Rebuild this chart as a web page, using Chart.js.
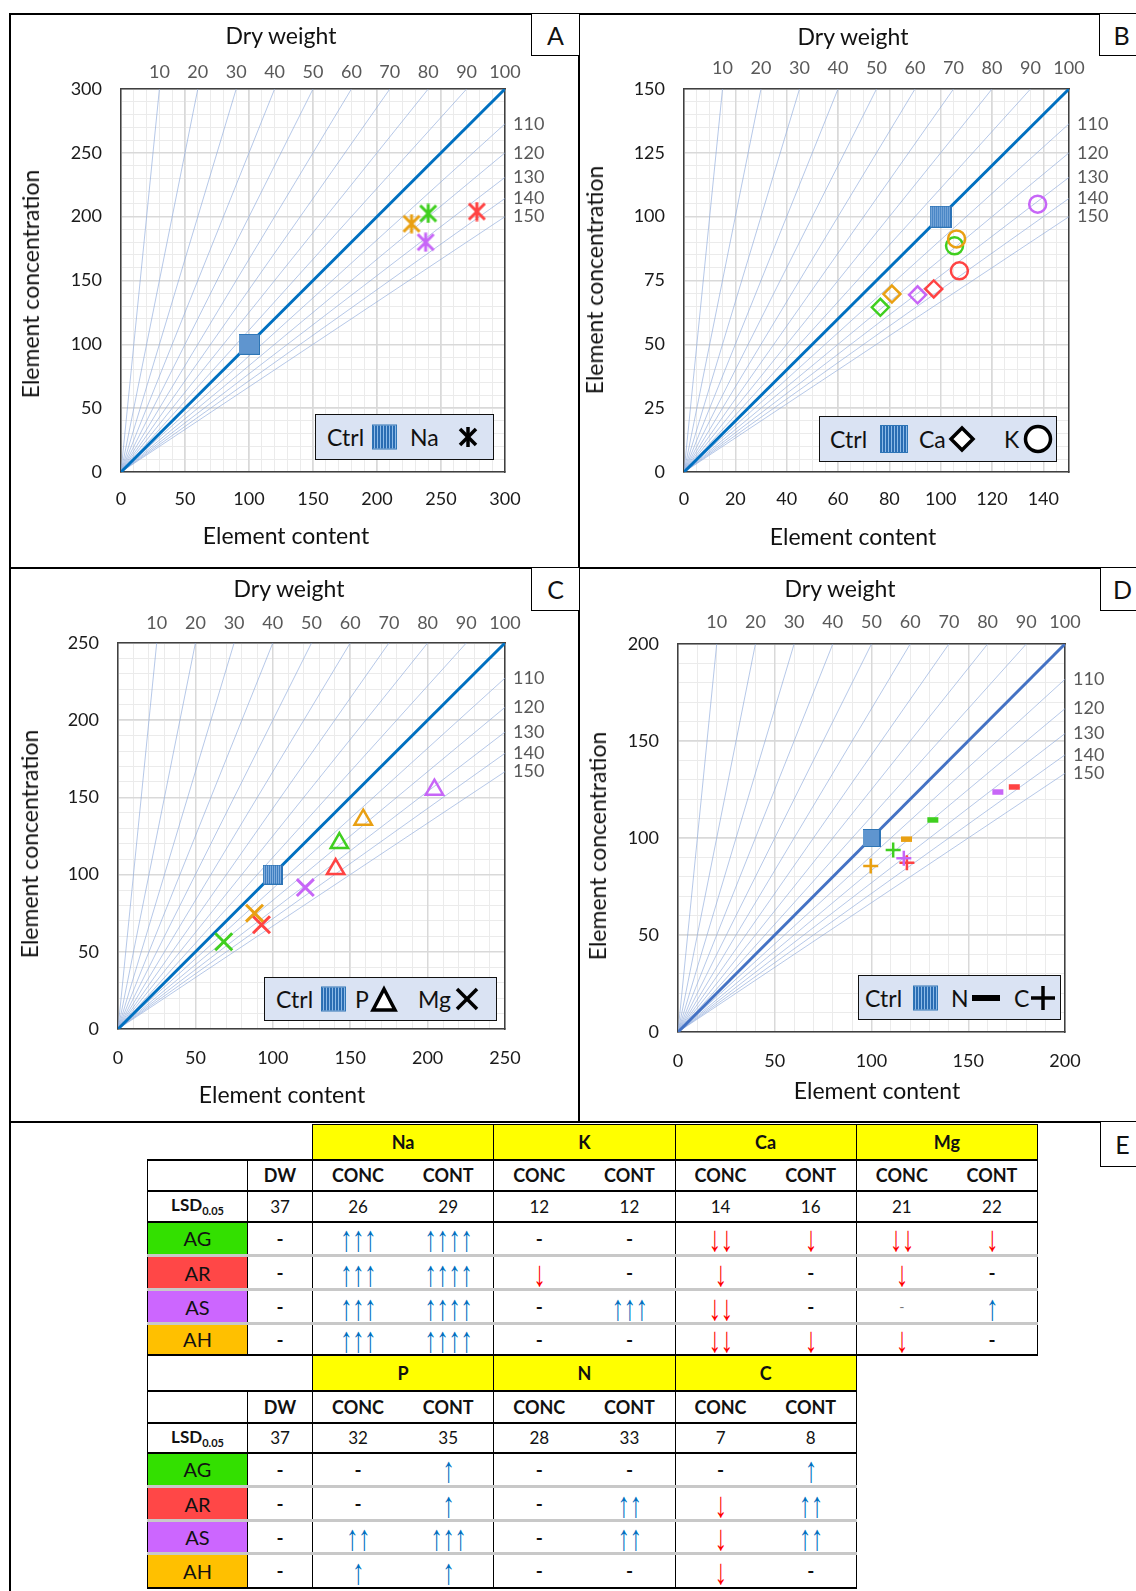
<!DOCTYPE html>
<html>
<head>
<meta charset="utf-8">
<script src="https://cdn.jsdelivr.net/npm/chart.js@4.4.1/dist/chart.umd.min.js"></script>
<style>
  body { margin: 0; background: #fff; }
  #fig { position: relative; width: 1136px; height: 1591px; overflow: hidden; font-family: Lato, 'Open Sans', sans-serif; color: #111; }
  .ln { position: absolute; background: #000; }
  canvas { position: absolute; }
  .t { position: absolute; transform: translate(-50%, -50%); white-space: nowrap; font-size: 23px; }
  .tv { transform: translate(-50%, -50%) rotate(-90deg); }
  .pl { position: absolute; box-sizing: border-box; border: 1.5px solid #000; background: #fff; font-size: 25px; display: flex; align-items: center; justify-content: center; }
  .leg { position: absolute; box-sizing: border-box; background: #dae3f3; border: 1.5px solid #111; }
  .leg > * { position: absolute; top: 50%; transform: translateY(-50%); }
  .leg span { font-size: 23px; }
  .sq { background: repeating-linear-gradient(90deg, #2a6db3 0 1px, #8dbbe8 1px 2px, #2a6db3 2px 3px); border: 1px solid #2e75b6; box-sizing: border-box; }
  table { position: absolute; border-collapse: collapse; table-layout: fixed; }
  td { padding: 0; text-align: center; vertical-align: middle; font-size: 17px; color: #111; }
  .yel td.el { background: #ffff00; border: 1.5px solid #000; font-weight: bold; font-size: 18px; }
  .hdr td { border-top: 2px solid #000; border-bottom: 2.5px solid #000; font-weight: bold; font-size: 18px; }
  .lsd td { border-bottom: 2.5px solid #000; }
  .dat td { border-bottom: 3px solid #c8c8c8; }
  .dat.last td { border-bottom: 2px solid #000; }
  td.vl { border-left: 1.5px solid #000; }
  td.vr { border-right: 1.5px solid #000; }
  .up, .dn { font-family: 'Liberation Sans', sans-serif; font-size: 25px; line-height: 20px; }
  .up { color: #0070c0; }
  .dn { color: #ff0000; }
  .up span, .dn span { display: inline-block; transform: scaleY(1.45); letter-spacing: -0.5px; }
  .dash { font-weight: bold; font-size: 19px; }
  .faint { color: #777; font-size: 14px; }
  .lab { font-size: 20px; }
</style>
</head>
<body>
<div id="fig">
  <canvas id="chartA" width="568" height="554" style="left:10px;top:14px"></canvas>
  <canvas id="chartB" width="556" height="554" style="left:580px;top:14px"></canvas>
  <canvas id="chartC" width="568" height="553" style="left:10px;top:569px"></canvas>
  <canvas id="chartD" width="556" height="553" style="left:580px;top:569px"></canvas>
</div>
<script>
// treatments and colours
const treatments = ['AG', 'AR', 'AS', 'AH'];
const treatmentColors = ['#3fcf1f', '#ff4343', '#c766f7', '#e9a012'];
const labelColors = ['#33e000', '#ff4747', '#cc66ff', '#ffc000'];

// dry weight iso-lines
const dryWeightTop = [10, 20, 30, 40, 50, 60, 70, 80, 90, 100];
const dryWeightRight = [110, 120, 130, 140, 150];
const ctrlPoint = [100, 100];

// panel A - Na
const naContent = [240, 278, 238, 227];
const naConc = [202.5, 204, 180, 194.5];
// panel B - Ca, K
const caContent = [76.5, 97.3, 91, 81];
const caConc = [64.5, 71.7, 69.4, 69.7];
const kContent = [105.4, 107.3, 137.8, 106.2];
const kConc = [88.6, 78.8, 104.9, 91.3];
// panel C - P, Mg
const pContent = [143, 140.6, 204.4, 158.4];
const pConc = [120.4, 103.6, 155, 135.6];
const mgContent = [68.3, 92.7, 121, 88.2];
const mgConc = [56.5, 67.5, 91.6, 75];
// panel D - N, C
const nContent = [131.7, 173.8, 165.3, 118.1];
const nConc = [109.3, 126.3, 123.7, 99.4];
const cContent = [111.2, 118.3, 116.7, 99.6];
const cConc = [93.8, 87.3, 89.5, 85.6];

// tick labels
const ticksA = [0, 50, 100, 150, 200, 250, 300];
const ticksBx = [0, 20, 40, 60, 80, 100, 120, 140];
const ticksBy = [0, 25, 50, 75, 100, 125, 150];
const ticksC = [0, 50, 100, 150, 200, 250];
const ticksD = [0, 50, 100, 150, 200];

// table E
const elements1 = ['Na', 'K', 'Ca', 'Mg'];
const lsd1 = [37, 26, 29, 12, 12, 14, 16, 21, 22];
const signs1 = [
  ['-', '↑↑↑', '↑↑↑↑', '-', '-', '↓↓', '↓', '↓↓', '↓'],
  ['-', '↑↑↑', '↑↑↑↑', '↓', '-', '↓', '-', '↓', '-'],
  ['-', '↑↑↑', '↑↑↑↑', '-', '↑↑↑', '↓↓', '-', '_', '↑'],
  ['-', '↑↑↑', '↑↑↑↑', '-', '-', '↓↓', '↓', '↓', '-']
];
const elements2 = ['P', 'N', 'C'];
const lsd2 = [37, 32, 35, 28, 33, 7, 8];
const signs2 = [
  ['-', '-', '↑', '-', '-', '-', '↑'],
  ['-', '-', '↑', '-', '↑↑', '↓', '↑↑'],
  ['-', '↑↑', '↑↑↑', '-', '↑↑', '↓', '↑↑'],
  ['-', '↑', '↑', '-', '-', '↓', '-']
];

Chart.defaults.font.family = "Lato, 'Open Sans', sans-serif";
Chart.defaults.color = '#1a1a1a';

const fig = document.getElementById('fig');

function asteriskImage(color, size, lw) {
  const c = document.createElement('canvas');
  c.width = size; c.height = size;
  const g = c.getContext('2d');
  g.strokeStyle = color; g.lineWidth = lw;
  const m = lw / 2 + 0.5, s = size - m;
  g.beginPath();
  g.moveTo(m, m); g.lineTo(s, s);
  g.moveTo(s, m); g.lineTo(m, s);
  g.moveTo(size / 2, 0.5); g.lineTo(size / 2, size - 0.5);
  g.stroke();
  return c;
}

function ctrlImage(size) {
  const c = document.createElement('canvas');
  c.width = size; c.height = size;
  const g = c.getContext('2d');
  g.fillStyle = '#2c70b8';
  g.fillRect(0, 0, size, size);
  g.fillStyle = 'rgba(180,212,245,0.75)';
  for (let x = 1; x < size - 1; x += 2) g.fillRect(x, 1, 1, size - 2);
  g.strokeStyle = '#2e75b6';
  g.strokeRect(0.5, 0.5, size - 1, size - 1);
  return c;
}

function points(xs, ys) {
  return xs.map((x, i) => ({ x: x, y: ys[i] }));
}

function makePanel(cfg) {
  const canvas = document.getElementById(cfg.id);
  const W = canvas.width, H = canvas.height;
  const p = cfg.plot;
  const datasets = [];

  dryWeightTop.concat(dryWeightRight).forEach(d => {
    const main = d === 100;
    datasets.push({
      data: [{ x: 0, y: 0 }, { x: cfg.max, y: cfg.max * 100 / d }],
      showLine: true, pointRadius: 0,
      borderColor: main ? cfg.diagColor : 'rgba(143,170,220,0.65)',
      borderWidth: main ? 3 : 1,
      order: main ? 5 : 10
    });
  });

  datasets.push({
    data: [{ x: ctrlPoint[0], y: ctrlPoint[1] }],
    pointStyle: ctrlImage(cfg.ctrlSize), pointRadius: cfg.ctrlSize / 2,
    order: 1
  });

  cfg.series.forEach(s => {
    datasets.push(Object.assign({
      data: points(s.x, s.y),
      pointBorderColor: treatmentColors,
      pointBackgroundColor: 'rgba(0,0,0,0)',
      order: 0
    }, s.style));
  });

  const minorTicks = step => s => {
    s.ticks = [];
    for (let v = 0; v <= cfg.max + 1e-9; v += step) s.ticks.push({ value: v });
  };

  new Chart(canvas, {
    type: 'scatter',
    data: { datasets: datasets },
    options: {
      responsive: false,
      animation: false,
      events: [],
      layout: { padding: 0 },
      plugins: { legend: { display: false }, tooltip: { enabled: false } },
      scales: {
        xMinor: {
          type: 'linear', position: 'bottom', min: 0, max: cfg.max, z: -1,
          afterBuildTicks: minorTicks(cfg.minorX),
          afterFit: s => { s.height = 0; },
          grid: { color: '#ebebeb', lineWidth: 1, drawTicks: false },
          border: { display: false },
          ticks: { display: false }
        },
        yMinor: {
          type: 'linear', position: 'left', min: 0, max: cfg.max, z: -1,
          afterBuildTicks: minorTicks(cfg.minorY),
          afterFit: s => { s.width = 0; },
          grid: { color: '#ebebeb', lineWidth: 1, drawTicks: false },
          border: { display: false },
          ticks: { display: false }
        },
        x: {
          type: 'linear', position: 'bottom', min: 0, max: cfg.max,
          afterBuildTicks: s => { s.ticks = cfg.xTicks.map(v => ({ value: v })); },
          afterFit: s => { s.height = H - p.b; },
          grid: { color: '#d9d9d9', lineWidth: 1.5, drawTicks: false },
          border: { color: '#404040', width: 1.5 },
          ticks: { autoSkip: false, maxRotation: 0, padding: cfg.bottomPad, color: '#1a1a1a', font: { size: 18 } }
        },
        y: {
          type: 'linear', position: 'left', min: 0, max: cfg.max,
          afterBuildTicks: s => { s.ticks = cfg.yTicks.map(v => ({ value: v })); },
          afterFit: s => { s.width = p.l; },
          grid: { color: '#d9d9d9', lineWidth: 1.5, drawTicks: false },
          border: { color: '#404040', width: 1.5 },
          ticks: { autoSkip: false, padding: 19, color: '#1a1a1a', font: { size: 18 } }
        },
        xTop: {
          type: 'linear', position: 'top', min: 0, max: cfg.max,
          afterBuildTicks: s => { s.ticks = dryWeightTop.map(d => ({ value: cfg.max * d / 100 })); },
          afterFit: s => { s.height = p.t; },
          grid: { display: false, drawTicks: false },
          border: { color: '#404040', width: 1.5 },
          ticks: { autoSkip: false, maxRotation: 0, padding: cfg.topPad, color: '#595959', font: { size: 18 },
                   callback: (v, i) => dryWeightTop[i] }
        },
        yRight: {
          type: 'linear', position: 'right', min: 0, max: cfg.max,
          afterBuildTicks: s => { s.ticks = dryWeightRight.map(d => ({ value: cfg.max * 100 / d })); },
          afterFit: s => { s.width = W - p.r; },
          grid: { display: false, drawTicks: false },
          border: { color: '#404040', width: 1.5 },
          ticks: { autoSkip: false, padding: 8, color: '#595959', font: { size: 18 },
                   callback: (v, i) => dryWeightRight[i] }
        }
      }
    }
  });
}

const asterisks = treatmentColors.map(c => asteriskImage(c, 20, 3));

makePanel({
  id: 'chartA', max: 300, xTicks: ticksA, yTicks: ticksA, minorX: 10, minorY: 10,
  plot: { l: 111, t: 75, r: 495, b: 458 }, topPad: 6, bottomPad: 16,
  diagColor: '#0070c0', ctrlSize: 21,
  series: [{ x: naContent, y: naConc, style: { pointStyle: asterisks, pointRadius: 10 } }]
});
makePanel({
  id: 'chartB', max: 150, xTicks: ticksBx, yTicks: ticksBy, minorX: 5, minorY: 5,
  plot: { l: 104, t: 75, r: 489, b: 458 }, topPad: 10, bottomPad: 16,
  diagColor: '#0070c0', ctrlSize: 22,
  series: [
    { x: caContent, y: caConc, style: { pointStyle: 'rectRot', pointRadius: 8.5, pointBorderWidth: 2.5 } },
    { x: kContent, y: kConc, style: { pointStyle: 'circle', pointRadius: 8.5, pointBorderWidth: 2.5 } }
  ]
});
makePanel({
  id: 'chartC', max: 250, xTicks: ticksC, yTicks: ticksC, minorX: 10, minorY: 10,
  plot: { l: 108, t: 74, r: 495, b: 460 }, topPad: 9, bottomPad: 18,
  diagColor: '#0070c0', ctrlSize: 20,
  series: [
    { x: pContent, y: pConc, style: { pointStyle: 'triangle', pointRadius: 10, pointBorderWidth: 2.5 } },
    { x: mgContent, y: mgConc, style: { pointStyle: 'crossRot', pointRadius: 12, pointBorderWidth: 3 } }
  ]
});
makePanel({
  id: 'chartD', max: 200, xTicks: ticksD, yTicks: ticksD, minorX: 10, minorY: 10,
  plot: { l: 98, t: 75, r: 485, b: 463 }, topPad: 11, bottomPad: 18,
  diagColor: '#4472c4', ctrlSize: 18,
  series: [
    { x: nContent, y: nConc, style: { pointStyle: 'line', pointRadius: 5.5, pointBorderWidth: 5.5 } },
    { x: cContent, y: cConc, style: { pointStyle: 'cross', pointRadius: 7.5, pointBorderWidth: 2.5 } }
  ]
});

// frame lines
function addLine(l, t, w, h) {
  const d = document.createElement('div');
  d.className = 'ln';
  d.style.cssText = `left:${l}px;top:${t}px;width:${w}px;height:${h}px`;
  fig.appendChild(d);
}
addLine(9, 13, 1127, 2);
addLine(9, 13, 2, 1578);
addLine(578, 13, 2, 1110);
addLine(9, 567, 1127, 2);
addLine(9, 1121, 1127, 2);

// text helper
function addText(txt, cx, cy, cls) {
  const d = document.createElement('div');
  d.className = 't' + (cls ? ' ' + cls : '');
  d.style.left = cx + 'px';
  d.style.top = cy + 'px';
  d.textContent = txt;
  fig.appendChild(d);
}
addText('Dry weight', 281, 35); addText('Element content', 286, 535); addText('Element concentration', 30, 284, 'tv');
addText('Dry weight', 853, 36); addText('Element content', 853, 536); addText('Element concentration', 594, 280, 'tv');
addText('Dry weight', 289, 588); addText('Element content', 282, 1094); addText('Element concentration', 29, 844, 'tv');
addText('Dry weight', 840, 588); addText('Element content', 877, 1090); addText('Element concentration', 597, 846, 'tv');

// panel letters
function addLetter(ch, l, t, w, h) {
  const d = document.createElement('div');
  d.className = 'pl';
  d.style.cssText = `left:${l}px;top:${t}px;width:${w}px;height:${h}px`;
  d.textContent = ch;
  fig.appendChild(d);
}
addLetter('A', 531, 13, 49, 43);
addLetter('B', 1099, 13, 45, 43);
addLetter('C', 531, 567, 49, 44);
addLetter('D', 1100, 567, 45, 44);
addLetter('E', 1100, 1121, 45, 46);

// legends
const svgIcon = {
  star: '<svg width="24" height="24"><g stroke="#000" stroke-width="3.5"><line x1="4" y1="4" x2="20" y2="20"/><line x1="20" y1="4" x2="4" y2="20"/><line x1="12" y1="2" x2="12" y2="22"/></g></svg>',
  diamond: '<svg width="28" height="28"><polygon points="14,3 25,14 14,25 3,14" fill="#fff" stroke="#000" stroke-width="3.5"/></svg>',
  circle: '<svg width="30" height="30"><circle cx="15" cy="15" r="12.5" fill="#fff" stroke="#000" stroke-width="3.5"/></svg>',
  triangle: '<svg width="28" height="28"><polygon points="14,4 25,25 3,25" fill="#fff" stroke="#000" stroke-width="3.5"/></svg>',
  cross: '<svg width="26" height="26"><g stroke="#000" stroke-width="3.5"><line x1="3" y1="3" x2="23" y2="23"/><line x1="23" y1="3" x2="3" y2="23"/></g></svg>',
  dash: '<svg width="28" height="8"><rect x="0" y="1" width="28" height="6" fill="#000"/></svg>',
  plus: '<svg width="26" height="26"><g stroke="#000" stroke-width="3.5"><line x1="13" y1="1" x2="13" y2="25"/><line x1="1" y1="13" x2="25" y2="13"/></g></svg>'
};
function addLegend(l, t, w, h, items) {
  const d = document.createElement('div');
  d.className = 'leg';
  d.style.cssText = `left:${l}px;top:${t}px;width:${w}px;height:${h}px`;
  items.forEach(it => {
    let e;
    if (it.text) { e = document.createElement('span'); e.textContent = it.text; }
    else if (it.sq) { e = document.createElement('div'); e.className = 'sq'; e.style.width = it.sq + 'px'; e.style.height = it.sq + 'px'; }
    else { e = document.createElement('div'); e.innerHTML = svgIcon[it.icon]; e.style.lineHeight = '0'; }
    e.style.left = it.x + 'px';
    d.appendChild(e);
  });
  fig.appendChild(d);
}
addLegend(315, 414, 179, 46, [{ text: 'Ctrl', x: 11 }, { sq: 25, x: 56 }, { text: 'Na', x: 94 }, { icon: 'star', x: 140 }]);
addLegend(819, 416, 238, 46, [{ text: 'Ctrl', x: 10 }, { sq: 28, x: 60 }, { text: 'Ca', x: 99 }, { icon: 'diamond', x: 128 }, { text: 'K', x: 184 }, { icon: 'circle', x: 203 }]);
addLegend(264, 977, 233, 44, [{ text: 'Ctrl', x: 11 }, { sq: 25, x: 56 }, { text: 'P', x: 90 }, { icon: 'triangle', x: 105 }, { text: 'Mg', x: 153 }, { icon: 'cross', x: 189 }]);
addLegend(858, 975, 203, 45, [{ text: 'Ctrl', x: 6 }, { sq: 25, x: 54 }, { text: 'N', x: 92 }, { icon: 'dash', x: 113 }, { text: 'C', x: 155 }, { icon: 'plus', x: 171 }]);

// table E
function signCell(td, s) {
  if (s.indexOf('↑') >= 0 || s.indexOf('↓') >= 0) {
    td.className += s.indexOf('↑') >= 0 ? ' up' : ' dn';
    const sp = document.createElement('span');
    sp.textContent = s;
    td.appendChild(sp);
    return;
  }
  if (s === '_') { td.className += ' faint'; s = '-'; }
  else td.className += ' dash';
  td.textContent = s;
}
function buildTable(left, top, elements, lsd, signs, heights, blankBorder) {
  const nCols = 2 + elements.length * 2;
  const tbl = document.createElement('table');
  tbl.style.left = left + 'px';
  tbl.style.top = top + 'px';
  const widths = [100, 65].concat(new Array(elements.length * 2).fill(90.625));
  tbl.style.width = widths.reduce((a, b) => a + b, 0) + 'px';
  const cg = document.createElement('colgroup');
  widths.forEach(w => { const c = document.createElement('col'); c.style.width = w + 'px'; cg.appendChild(c); });
  tbl.appendChild(cg);
  const vclass = i => {
    let c = '';
    if (i <= 2 || i % 2 === 0) c += ' vl';
    if (i === nCols - 1) c += ' vr';
    return c;
  };
  // yellow row
  let tr = tbl.insertRow();
  tr.className = 'yel';
  tr.style.height = heights[0] + 'px';
  let td = tr.insertCell();
  td.colSpan = 2;
  if (blankBorder) td.style.border = '1.5px solid #000';
  elements.forEach(el => { const c = tr.insertCell(); c.colSpan = 2; c.className = 'el'; c.textContent = el; });
  // header row
  tr = tbl.insertRow();
  tr.className = 'hdr';
  tr.style.height = heights[1] + 'px';
  for (let i = 0; i < nCols; i++) {
    const c = tr.insertCell();
    c.className = vclass(i);
    c.textContent = i === 0 ? '' : i === 1 ? 'DW' : (i % 2 === 0 ? 'CONC' : 'CONT');
  }
  // LSD row
  tr = tbl.insertRow();
  tr.className = 'lsd';
  tr.style.height = heights[2] + 'px';
  for (let i = 0; i < nCols; i++) {
    const c = tr.insertCell();
    c.className = vclass(i);
    if (i === 0) c.innerHTML = '<b>LSD<sub style="font-size:11px">0.05</sub></b>';
    else c.textContent = lsd[i - 1];
  }
  // treatment rows
  treatments.forEach((t, r) => {
    tr = tbl.insertRow();
    tr.className = 'dat' + (r === treatments.length - 1 ? ' last' : '');
    tr.style.height = heights[3 + r] + 'px';
    for (let i = 0; i < nCols; i++) {
      const c = tr.insertCell();
      c.className = vclass(i);
      if (i === 0) { c.className += ' lab'; c.style.background = labelColors[r]; c.textContent = t; }
      else signCell(c, signs[r][i - 1]);
    }
  });
  fig.appendChild(tbl);
}
buildTable(147, 1124, elements1, lsd1, signs1, [35, 31, 31, 34, 34, 34, 31], false);
buildTable(147, 1355, elements2, lsd2, signs2, [35, 32, 30, 34, 34, 33, 34], true);
</script>
</body>
</html>
